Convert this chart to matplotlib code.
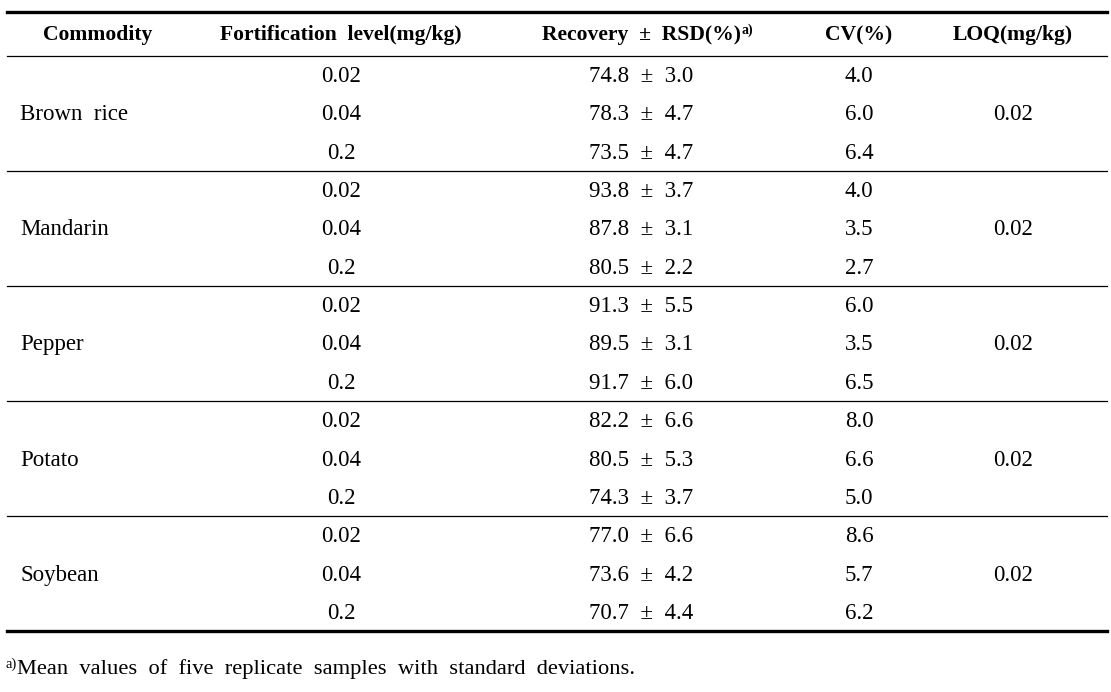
import matplotlib.pyplot as plt

plt.rcParams['font.family'] = ['Liberation Serif', 'DejaVu Serif']

# table data
commodities = ["Brown  rice", "Mandarin", "Pepper", "Potato", "Soybean"]
levels = ["0.02", "0.04", "0.2"]
recovery = [74.8, 78.3, 73.5, 93.8, 87.8, 80.5, 91.3, 89.5, 91.7,
            82.2, 80.5, 74.3, 77.0, 73.6, 70.7]
rsd = [3.0, 4.7, 4.7, 3.7, 3.1, 2.2, 5.5, 3.1, 6.0,
       6.6, 5.3, 3.7, 6.6, 4.2, 4.4]
cv = [4.0, 6.0, 6.4, 4.0, 3.5, 2.7, 6.0, 3.5, 6.5,
      8.0, 6.6, 5.0, 8.6, 5.7, 6.2]
loq = ["0.02", "0.02", "0.02", "0.02", "0.02"]
headers = ["Commodity", "Fortification  level(mg/kg)", "Recovery  \u00b1  RSD(%)",
           "CV(%)", "LOQ(mg/kg)"]
footnote = "Mean  values  of  five  replicate  samples  with  standard  deviations."

W, H = 1111, 692
fig = plt.figure(figsize=(W / 100, H / 100), dpi=100)
ax = fig.add_axes([0, 0, 1, 1])
ax.set_xlim(0, W)
ax.set_ylim(H, 0)
ax.axis("off")

col_x = [98, 341, 641, 859, 1013]
x0, x1 = 7, 1107
y_head = 35
y_first = 76.5
step = 38.35
fs = 16.5

# rules
ax.plot([x0, x1], [12, 12], color="black", lw=2.4)
ax.plot([x0, x1], [56, 56], color="black", lw=0.9)

# header
for i, h in enumerate(headers):
    t = ax.text(col_x[i], y_head, h, ha="center", va="center",
                fontsize=15.6, fontweight="bold")
    if i == 2:
        ax.annotate("a)", xy=(1, 1), xycoords=t, xytext=(0.5, 1),
                    textcoords="offset points", ha="left", va="top",
                    fontsize=10, fontweight="bold")

# body
for i in range(len(recovery)):
    y = y_first + i * step
    ax.text(col_x[1], y, levels[i % 3], ha="center", va="center", fontsize=fs)
    ax.text(col_x[2], y, f"{recovery[i]:.1f}  \u00b1  {rsd[i]:.1f}",
            ha="center", va="center", fontsize=fs)
    ax.text(col_x[3], y, f"{cv[i]:.1f}", ha="center", va="center", fontsize=fs)

for g, name in enumerate(commodities):
    ymid = y_first + (3 * g + 1) * step
    ax.text(20, ymid, name, ha="left", va="center", fontsize=fs)
    ax.text(col_x[4], ymid, loq[g], ha="center", va="center", fontsize=fs)
    ysep = y_first - 1.5 + (3 * g + 2) * step + 19.3
    if g < len(commodities) - 1:
        ax.plot([x0, x1], [ysep, ysep], color="black", lw=0.9)
    else:
        ax.plot([x0, x1], [ysep, ysep], color="black", lw=2.4)

# footnote
sup = ax.text(5, 664, "a)", ha="left", va="center", fontsize=10.5)
ax.annotate(footnote, xy=(1, 0), xycoords=sup, xytext=(0.5, -6),
            textcoords="offset points", ha="left", va="bottom", fontsize=16.2)

fig.savefig("out.png", dpi=100)
